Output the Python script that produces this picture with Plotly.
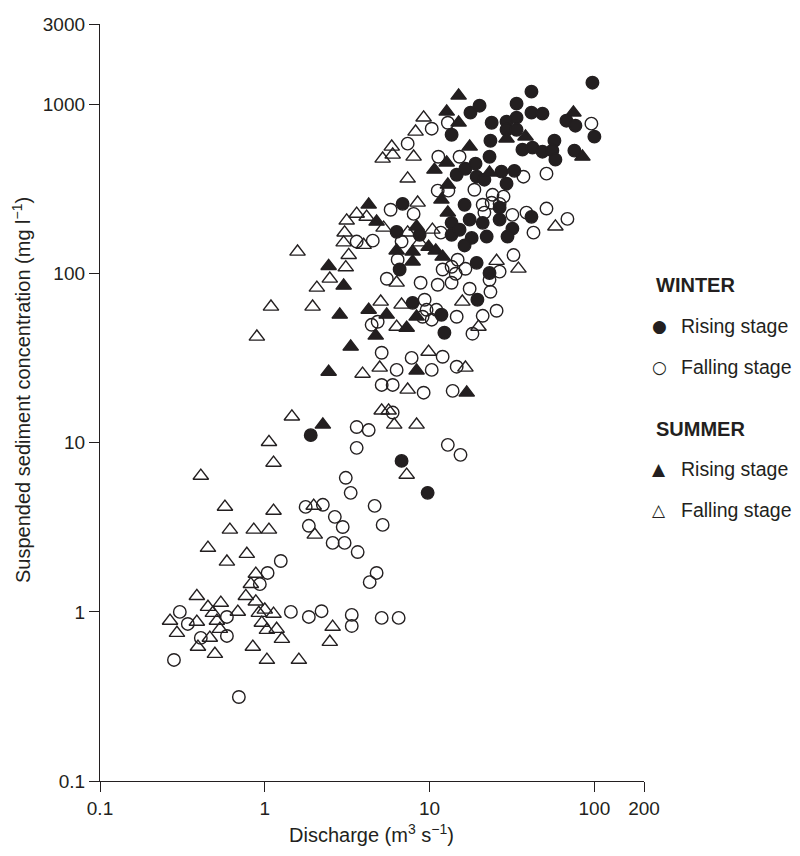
import plotly.graph_objects as go

# ---------------- data ----------------
winter_rising_q = [1.90, 6.76, 9.73, 6.31, 6.58, 6.86, 13.6, 17.7, 14.6, 16.5, 19.0, 19.3, 21.5,
                   13.6, 8.70, 13.6, 18.0, 15.2, 16.3, 17.5, 21.0, 26.6, 26.6, 31.8, 41.5, 22.2,
                   29.7, 16.3, 19.3, 23.1, 19.5, 7.89, 11.8, 12.3, 97.3, 41.5, 20.1, 33.7, 41.5,
                   48.4, 67.6, 76.7, 100, 23.8, 29.3, 33.7, 29.3, 33.7, 23.4, 57.2, 36.6, 42.1,
                   48.4, 55.6, 58.0, 75.6, 23.1, 27.3, 32.7, 29.3]
winter_rising_c = [11.1, 7.82, 5.06, 177, 106, 259, 664, 897, 385, 418, 448, 375, 360,
                   200, 170, 170, 163, 182, 256, 209, 200, 209, 246, 185, 217, 166,
                   166, 147, 116, 101, 70.2, 67.3, 57.2, 44.8, 1349, 1194, 986, 1014, 897,
                   885, 804, 751, 647, 782, 793, 838, 711, 711, 612, 612, 542, 557,
                   527, 535, 473, 535, 492, 402, 406, 341]

winter_falling_q = [10.3, 12.9, 7.36, 11.3, 15.2, 11.2, 13.0, 5.80, 8.00, 11.7, 95.9, 37.1, 51.2,
                    18.7, 24.1, 28.1, 21.0, 23.8, 26.6, 21.5, 31.8, 38.7, 51.2, 68.6, 42.7,
                    3.61, 4.52, 6.40, 5.50, 4.45, 4.84, 5.12, 6.31, 5.12, 5.97, 6.76, 14.8,
                    13.6, 12.0, 14.4, 16.5, 26.6, 32.3, 23.1, 8.82, 11.2, 13.6, 17.5, 23.4,
                    9.33, 9.59, 11.0, 9.07, 10.3, 14.6, 21.0, 25.5, 18.2, 7.78, 12.0, 10.3,
                    14.6, 9.20, 13.8, 5.97, 12.9, 15.4, 3.61, 4.27, 3.61, 3.10, 3.32, 1.77,
                    2.25, 2.66, 2.97, 1.85, 2.58, 3.05, 3.66, 4.64, 5.19, 1.25, 4.77, 4.33,
                    1.44, 1.85, 2.21, 3.37, 3.37, 5.12, 6.49, 1.04, 0.933, 0.305, 0.341,
                    0.589, 0.409, 0.589, 0.281, 0.696]
winter_falling_c = [721, 782, 588, 492, 492, 310, 310, 239, 226, 175, 772, 375, 391,
                    314, 293, 286, 256, 263, 259, 230, 223, 230, 243, 211, 175,
                    155, 157, 121, 93.4, 49.9, 52.0, 34.1, 27.0, 22.0, 22.0, 155, 121,
                    110, 106, 100, 107, 103, 129, 92.1, 88.5, 86.1, 88.5, 81.5, 78.2,
                    70.2, 61.2, 61.2, 55.7, 53.5, 55.7, 56.4, 60.4, 44.2, 31.8, 32.3, 27.0,
                    28.2, 19.8, 20.3, 15.1, 9.73, 8.49, 12.4, 11.9, 9.34, 6.21, 5.06, 4.18,
                    4.30, 3.65, 3.18, 3.23, 2.56, 2.56, 2.26, 4.24, 3.27, 2.00, 1.70, 1.50,
                    1.00, 0.934, 1.01, 0.960, 0.826, 0.922, 0.922, 1.70, 1.46, 1.00, 0.849,
                    0.934, 0.702, 0.721, 0.520, 0.314]

summer_rising_q = [15.0, 12.7, 15.0, 17.5, 10.7, 12.7, 12.9, 11.8, 12.9, 4.27, 4.77, 8.34, 6.31,
                   7.89, 9.86, 10.9, 12.0, 7.89, 2.44, 3.01, 4.27, 5.49, 2.85, 8.34, 7.26,
                   4.71, 3.32, 2.44, 8.34, 16.8, 2.25, 74.6, 29.3, 38.2, 84.6, 23.1]
summer_rising_c = [1130, 909, 782, 564, 412, 454, 336, 274, 230, 256, 203, 190, 137,
                   135, 144, 137, 126, 118, 111, 84.9, 61.2, 57.2, 57.2, 55.7, 47.9,
                   43.0, 37.0, 26.3, 26.7, 19.8, 12.8, 897, 630, 647, 492, 396]

summer_falling_q = [9.20, 8.22, 5.89, 5.97, 5.19, 8.00, 7.36, 8.46, 3.61, 4.15, 3.14, 5.26, 3.05,
                    3.01, 3.98, 1.58, 3.23, 3.10, 2.48, 6.31, 2.07, 5.05, 1.09, 1.95, 6.31,
                    0.895, 4.98, 3.92, 7.36, 10.4, 8.70, 25.5, 34.6, 58.0, 15.8, 6.76, 19.8,
                    9.86, 16.5, 7.36, 5.12, 5.64, 6.10, 8.34, 7.26, 1.46, 1.06, 1.13, 0.409,
                    0.573, 1.13, 1.98, 0.614, 0.857, 1.06, 0.452, 0.778, 0.589, 2.01, 0.882,
                    0.823, 0.387, 0.767, 0.882, 0.452, 0.541, 0.266, 0.387, 0.484, 0.512,
                    0.686, 1.00, 0.920, 1.13, 0.959, 0.534, 1.03, 1.18, 0.293, 0.464, 1.27,
                    0.393, 0.846, 0.498, 1.03, 1.61, 2.58, 2.48]
summer_falling_c = [838, 692, 564, 506, 479, 492, 365, 263, 226, 217, 206, 187, 175,
                    153, 148, 135, 129, 109, 93.4, 88.5, 82.6, 68.3, 63.8, 63.8, 48.5,
                    42.4, 27.8, 25.6, 175, 182, 153, 119, 107, 190, 68.3, 65.6, 48.5,
                    34.5, 27.8, 20.6, 15.5, 15.5, 12.8, 12.8, 6.47, 14.3, 10.1, 7.62, 6.38,
                    4.18, 3.96, 4.24, 3.06, 3.06, 3.06, 2.39, 2.20, 1.98, 2.86, 1.68,
                    1.46, 1.24, 1.24, 1.15, 1.07, 1.13, 0.885, 0.873, 0.986, 0.885,
                    1.00, 1.03, 0.986, 0.973, 0.861, 0.793, 0.782, 0.793, 0.751, 0.702, 0.692,
                    0.621, 0.621, 0.564, 0.520, 0.520, 0.815, 0.664]

x_tickvals = [0.1, 1, 10, 100, 200]
x_ticktext = ["0.1", "1", "10", "100", "200"]
y_tickvals = [0.1, 1, 10, 100, 1000, 3000]
y_ticktext = ["0.1", "1", "10", "100", "1000", "3000"]

# ---------------- style ----------------
INK = "#231f20"
FONT = "Liberation Sans, Arial, sans-serif"
OFF = 8                      # page body margin of the html page
W, H = 800 - 2 * OFF, 856 - 2 * OFF
L, T = 92, 16
R = W - (644 - OFF)
B = H - (781 - OFF)
PW, PH = W - L - R, H - T - B


def px(xpage):
    return (xpage - OFF - L) / PW


def py(ypage):
    return (H - B - (ypage - OFF)) / PH


fig = go.Figure()

series = [
    (winter_rising_q, winter_rising_c, "circle", 12.5, "Winter rising"),
    (winter_falling_q, winter_falling_c, "circle-open", 12.5, "Winter falling"),
    (summer_rising_q, summer_rising_c, "triangle-up", 13.5, "Summer rising"),
    (summer_falling_q, summer_falling_c, "triangle-up-open", 13.5, "Summer falling"),
]
for q, c, sym, size, name in series:
    fig.add_trace(go.Scatter(
        x=q, y=c, mode="markers", name=name, showlegend=False,
        marker=dict(symbol=sym, size=size, color=INK,
                    line=dict(color=INK, width=1.4)),
    ))

axis_common = dict(
    type="log", showline=True, linecolor=INK, linewidth=1.3,
    ticks="outside", ticklen=10, tickwidth=1.3, tickcolor=INK,
    showgrid=False, zeroline=False,
    tickfont=dict(family=FONT, size=19, color=INK),
)
fig.update_xaxes(range=[-1, 2.30103], tickvals=x_tickvals, ticktext=x_ticktext,
                 tickmode="array", **axis_common)
fig.update_yaxes(range=[-1, 3.4771213], tickvals=y_tickvals, ticktext=y_ticktext,
                 tickmode="array", **axis_common)

ann = []
# axis titles
ann.append(dict(x=px(371), y=py(834), xref="paper", yref="paper", showarrow=False,
                text="Discharge (m<sup>3</sup> s<sup>\u22121</sup>)",
                font=dict(family=FONT, size=20, color=INK), xanchor="center", yanchor="middle"))
ann.append(dict(x=px(21), y=py(390), xref="paper", yref="paper", showarrow=False,
                text="Suspended sediment concentration (mg l<sup>\u22121</sup>)", textangle=-90,
                font=dict(family=FONT, size=20, color=INK),
                xanchor="center", yanchor="middle"))

# legend (drawn as text)
legend_rows = [
    ("<b>WINTER</b>", None, 285),
    ("Rising stage", "\u25CF", 326),
    ("Falling stage", "\u25CB", 367),
    ("<b>SUMMER</b>", None, 429),
    ("Rising stage", "\u25B2", 469),
    ("Falling stage", "\u25B3", 510),
]
for label, sym, yp in legend_rows:
    if sym is None:
        ann.append(dict(x=px(654), y=py(yp), xref="paper", yref="paper", showarrow=False,
                        text=label, xanchor="left", yanchor="middle",
                        font=dict(family=FONT, size=20, color=INK)))
    else:
        ann.append(dict(x=px(659), y=py(yp), xref="paper", yref="paper", showarrow=False,
                        text=sym, xanchor="center", yanchor="middle",
                        font=dict(family="DejaVu Sans", size=17, color=INK)))
        ann.append(dict(x=px(679), y=py(yp), xref="paper", yref="paper", showarrow=False,
                        text=label, xanchor="left", yanchor="middle",
                        font=dict(family=FONT, size=19.5, color=INK)))

fig.update_layout(
    width=W, height=H,
    margin=dict(l=L, r=R, t=T, b=B, autoexpand=False),
    paper_bgcolor="white", plot_bgcolor="white",
    showlegend=False,
    annotations=ann,
    font=dict(family=FONT, color=INK),
)

fig.write_html("out.html")
